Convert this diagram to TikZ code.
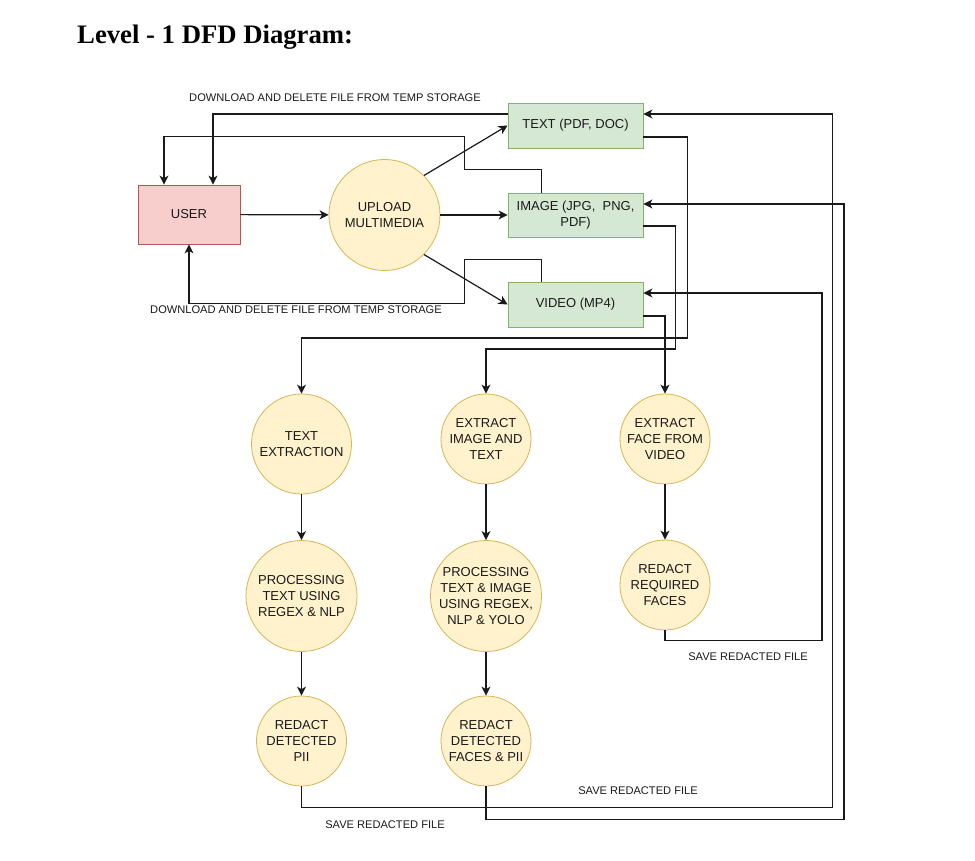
\documentclass[tikz,border=0pt]{standalone}
\usepackage{fontspec}
\setmainfont{Liberation Sans}
\newfontfamily\titlefont{Liberation Serif}
\usetikzlibrary{arrows.meta}
\definecolor{circfill}{HTML}{FFF2CC}
\definecolor{circdraw}{HTML}{D6B656}
\definecolor{grnfill}{HTML}{D5E8D4}
\definecolor{grndraw}{HTML}{82B366}
\definecolor{redfill}{HTML}{F8CECC}
\definecolor{reddraw}{HTML}{B85450}
\definecolor{linecol}{HTML}{1A1A1A}
\definecolor{txtcol}{HTML}{1A1A1A}
\tikzset{
  proc/.style={circle, draw=circdraw, fill=circfill, line width=0.8pt, align=center, inner sep=0pt, text=txtcol, font=\fontsize{13}{16}\selectfont},
  store/.style={rectangle, draw=grndraw, fill=grnfill, line width=0.8pt, align=center, inner sep=0pt, minimum width=135pt, text=txtcol, font=\fontsize{13}{16}\selectfont},
  ent/.style={rectangle, draw=reddraw, fill=redfill, line width=0.8pt, align=center, inner sep=0pt, minimum width=102pt, minimum height=59pt, text=txtcol, font=\fontsize{13}{16}\selectfont},
  lbl/.style={inner sep=0pt, text=txtcol, font=\fontsize{11.1}{13}\selectfont},
  flow/.style={draw=linecol, line width=1.2pt, -{Stealth[length=9pt,width=9pt,inset=2.5pt]}},
}
\begin{document}
\begin{tikzpicture}[x=1pt,y=-1pt]
\useasboundingbox[fill=white] (0,0) rectangle (975,861);
% title
\node[anchor=base west, inner sep=0pt, font=\titlefont\bfseries\fontsize{26.7}{30}\selectfont] (title) at (77,44) {Level - 1 DFD Diagram:};
% nodes
\node[ent] (user) at (189,214.5) {USER};
\node[proc, minimum size=111pt] (upload) at (384.5,215) {UPLOAD\\MULTIMEDIA};
\node[store, minimum height=45pt] (text) at (575.5,125.5) {TEXT (PDF, DOC)};
\node[store, minimum height=44pt] (image) at (575.5,215) {IMAGE (JPG,~ PNG,\\PDF)};
\node[store, minimum height=45pt] (video) at (575.5,304.5) {VIDEO (MP4)};
\node[proc, minimum size=100pt] (tex) at (301.5,444) {TEXT\\EXTRACTION};
\node[proc, minimum size=90pt] (eit) at (486,439) {EXTRACT\\IMAGE AND\\TEXT};
\node[proc, minimum size=90pt] (efv) at (665,439) {EXTRACT\\FACE FROM\\VIDEO};
\node[proc, minimum size=111pt] (ptx) at (301.5,596) {PROCESSING\\TEXT USING\\REGEX \& NLP};
\node[proc, minimum size=111pt] (pti) at (486,596) {PROCESSING\\TEXT \& IMAGE\\USING REGEX,\\NLP \& YOLO};
\node[proc, minimum size=90pt] (rrf) at (665,585) {REDACT\\REQUIRED\\FACES};
\node[proc, minimum size=90pt] (rdp) at (301.5,741) {REDACT\\DETECTED\\PII};
\node[proc, minimum size=90pt] (rdf) at (486,741) {REDACT\\DETECTED\\FACES \& PII};
% labels
\node[lbl] (l1) at (335,98) {DOWNLOAD AND DELETE FILE FROM TEMP STORAGE};
\node[lbl] (l2) at (296,310) {DOWNLOAD AND DELETE FILE FROM TEMP STORAGE};
\node[lbl] (l3) at (748,657) {SAVE REDACTED FILE};
\node[lbl] (l4) at (638,791) {SAVE REDACTED FILE};
\node[lbl] (l5) at (385,825) {SAVE REDACTED FILE};
% flows from user / upload
\draw[flow] (user) -- (upload);
\draw[flow] (upload.45) -- (text.west);
\draw[flow] (upload) -- (image);
\draw[flow] (upload.-45) -- (video.west);
% downloads back to user
\draw[flow] ([yshift=11.5pt]text.west) -| ([xshift=24pt]user.north);
\draw[flow] ([xshift=-34pt]image.north) -- ++(0,-23) -- ++(-77,0) -- ++(0,-33) -| ([xshift=-25pt]user.north);
\draw[flow] ([xshift=-34pt]video.north) -- ++(0,-22) -- ++(-77,0) -- ++(0,44) -| (user.south);
% stores to processes
\draw[flow] ([yshift=-11.5pt]text.east) -- ++(44,0) -- ++(0,201) -| (tex.north);
\draw[flow] ([yshift=-11pt]image.east) -- ++(32,0) -- ++(0,123) -| (eit.north);
\draw[flow] ([yshift=-11.5pt]video.east) -| (efv.north);
% process chains
\draw[flow] (tex) -- (ptx);
\draw[flow] (ptx) -- (rdp);
\draw[flow] (eit) -- (pti);
\draw[flow] (pti) -- (rdf);
\draw[flow] (efv) -- (rrf);
% save back
\draw[flow] (rrf.south) -- ++(0,10) -- ++(157,0) |- ([yshift=11.5pt]video.east);
\draw[flow] (rdp.south) -- ++(0,21) -- ++(531,0) |- ([yshift=11.5pt]text.east);
\draw[flow] (rdf.south) -- ++(0,33) -- ++(358,0) |- ([yshift=11pt]image.east);
\end{tikzpicture}
\end{document}
